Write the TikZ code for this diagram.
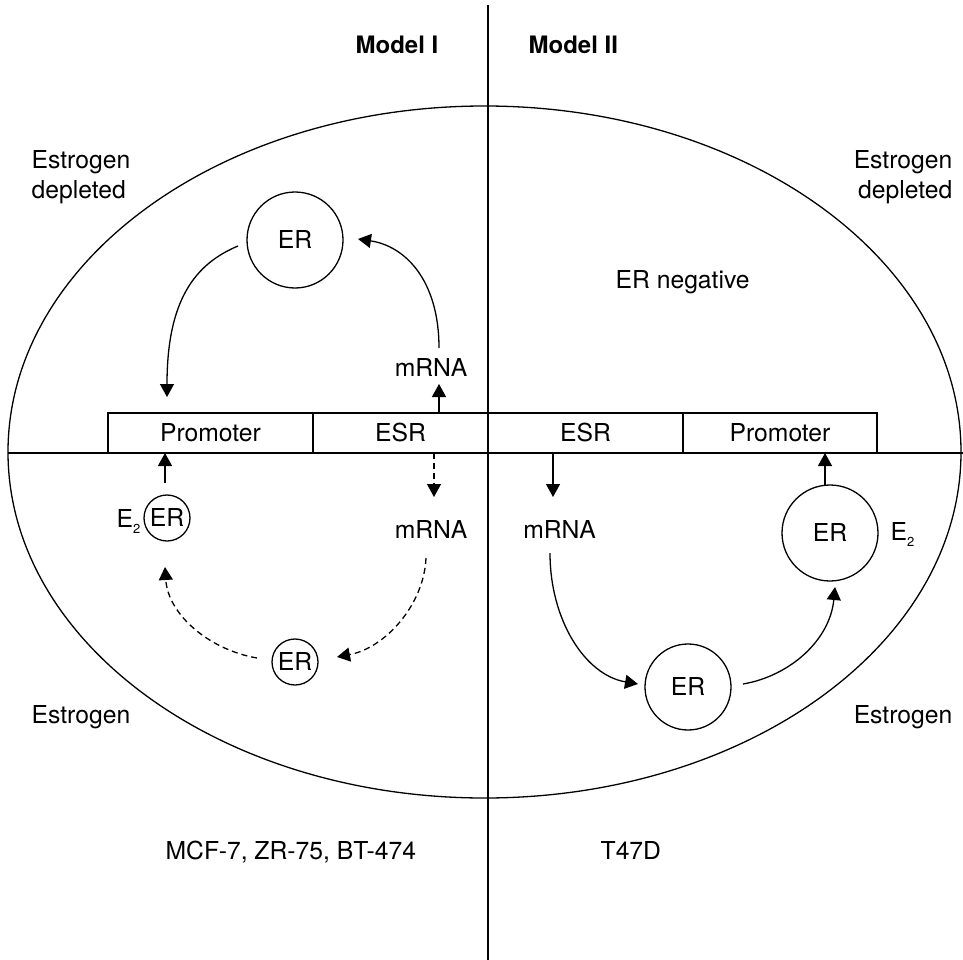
\documentclass[tikz,border=0pt]{standalone}
\usepackage{fontspec}
\setmainfont{TeX Gyre Heros}
\usetikzlibrary{arrows.meta}
\begin{document}
\begin{tikzpicture}[x=1pt,y=-1pt,line width=1.3pt,
  lbl/.style={font=\fontsize{24.7}{29}\selectfont, inner sep=0pt},
  cell/.style={draw, rectangle, inner sep=0pt, minimum height=40pt, text height=17.7pt, text depth=0pt, font=\fontsize{24.7}{29}\selectfont},
  erc/.style={draw, circle, inner sep=0pt, text height=17.7pt, text depth=0pt, font=\fontsize{24.7}{29}\selectfont},
  mrna/.style={inner sep=0pt, text height=17.7pt, text depth=0pt, font=\fontsize{24.7}{29}\selectfont},
  arr/.style={-{Triangle[width=14pt,length=13pt]}},
  dsh/.style={arr, dash pattern=on 6pt off 4pt}]
\useasboundingbox (0,0) rectangle (963,960);
\newcommand{\Etwo}{E\raisebox{-6pt}{\fontsize{13}{13}\selectfont 2}}

% frame lines and ellipse
\draw (484.5,452) ellipse [x radius=476.5, y radius=346];
\coordinate (vtop) at (488,5);
\coordinate (vbot) at (488,960);
\coordinate (hl) at (8,453);
\coordinate (hr) at (963,453);

% gene boxes
\node[cell, minimum width=205pt] (promL) at (210.5,433) {Promoter};
\node[cell, minimum width=175pt] (esrL) at (400.5,433) {ESR};
\node[cell, minimum width=195pt] (esrR) at (585.5,433) {ESR};
\node[cell, minimum width=194pt] (promR) at (780,433) {Promoter};
\draw (hl) -- (hr);
\draw[line width=1.5pt] (vtop) -- (vbot);

% headings and labels
\node[lbl, anchor=base west, font=\fontsize{24}{29}\selectfont\bfseries] (m1) at (355,54) {Model I};
\node[lbl, anchor=base west, font=\fontsize{24}{29}\selectfont\bfseries] (m2) at (528,54) {Model II};
\node[lbl, anchor=base west] (edl1) at (31,169) {Estrogen};
\node[lbl, anchor=base west] (edl2) at (31,198) {depleted};
\node[lbl, anchor=base east] (edr1) at (953,169) {Estrogen};
\node[lbl, anchor=base east] (edr2) at (953,198) {depleted};
\node[lbl, anchor=base west] (eneg) at (615,288) {ER negative};
\node[lbl, anchor=base west] (el) at (31,723) {Estrogen};
\node[lbl, anchor=base east] (er) at (953,723) {Estrogen};
\node[lbl, anchor=base west] (cellsL) at (165,859) {MCF-7, ZR-75, BT-474};
\node[lbl, anchor=base west] (cellsR) at (600,859) {T47D};

% Model I, estrogen depleted
\node[erc, minimum size=96pt] (erA) at (295,240) {ER};
\node[mrna] (mA) at (431,367.15) {mRNA};
\coordinate (a1) at (439,413);
\coordinate (a2) at (439,384);
\draw[arr] (a1) -- (a2);
\coordinate (a3) at (439,348);
\coordinate (a4) at (358,239);
\draw[arr] (a3) .. controls (439,280) and (405,246) .. (a4);
\coordinate (a5) at (238,246);
\coordinate (a6) at (167,397);
\draw[arr] (a5) .. controls (195,264) and (167,300) .. (a6);

% Model I, estrogen
\node[erc, minimum size=46pt] (erB) at (167,518) {ER};
\node[lbl, anchor=base west] (e2L) at (116,527) {\Etwo};
\node[mrna] (mB) at (431,529.15) {mRNA};
\node[erc, minimum size=46pt] (erC) at (295,662) {ER};
\coordinate (b1) at (165,483);
\coordinate (b2) at (165,453);
\draw[arr] (b1) -- (b2);
\coordinate (b3) at (434,453);
\coordinate (b4) at (434,497);
\draw[dsh] (b3) -- (b4);
\coordinate (b5) at (426,558);
\coordinate (b6) at (337,657);
\draw[dsh] (b5) .. controls (424,605) and (385,648) .. (b6);
\coordinate (b7) at (257,658);
\coordinate (b8) at (165,567);
\draw[dsh] (b7) .. controls (210,650) and (168,615) .. (b8);

% Model II, estrogen
\node[mrna] (mC) at (559.5,529.15) {mRNA};
\node[erc, minimum size=86pt] (erD) at (688,687) {ER};
\node[erc, minimum size=96pt] (erE) at (830,533) {ER};
\node[lbl, anchor=base west] (e2R) at (890,540) {\Etwo};
\coordinate (c1) at (553,453);
\coordinate (c2) at (553,497);
\draw[arr] (c1) -- (c2);
\coordinate (c3) at (550,553);
\coordinate (c4) at (638,684);
\draw[arr] (c3) .. controls (550,620) and (585,675) .. (c4);
\coordinate (c5) at (743,684);
\coordinate (c6) at (835,587);
\draw[arr] (c5) .. controls (790,676) and (830,640) .. (c6);
\coordinate (c7) at (825,485);
\coordinate (c8) at (825,453);
\draw[arr] (c7) -- (c8);
\end{tikzpicture}
\end{document}
